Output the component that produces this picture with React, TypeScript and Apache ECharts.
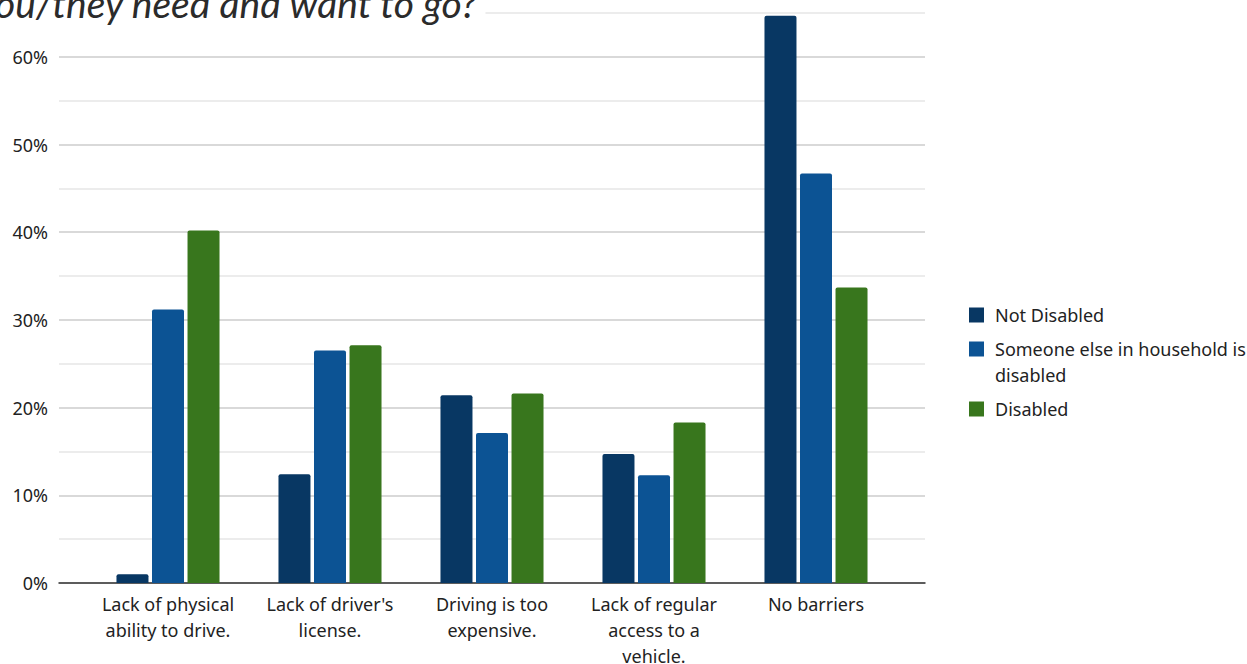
import React, { useEffect, useRef } from "react";
import * as echarts from "echarts";

// Survey barriers to getting where people need to go, by disability status (% of respondents)
const categories = [
  "Lack of physical\nability to drive.",
  "Lack of driver's\nlicense.",
  "Driving is too\nexpensive.",
  "Lack of regular\naccess to a\nvehicle.",
  "No barriers",
];
const seriesNames = ["Not Disabled", "Someone else in household is disabled", "Disabled"];
const notDisabled = [1.0, 12.4, 21.4, 14.7, 64.7];
const someoneElseDisabled = [31.2, 26.5, 17.1, 12.3, 46.7];
const disabled = [40.2, 27.1, 21.6, 18.3, 33.7];
const yTicks = [0, 10, 20, 30, 40, 50, 60];

const colors = ["#083763", "#0c5394", "#38761d"];
const FONT = "'Noto Sans', 'Open Sans', sans-serif";
const FONT_SIZE = 18;

export default function App() {
  const ref = useRef<HTMLDivElement>(null);

  useEffect(() => {
    document.body.style.margin = "0";
    const chart = echarts.init(ref.current!, null, { renderer: "svg" });
    const values = [notDisabled, someoneElseDisabled, disabled];

    const legendText = {
      fontFamily: FONT,
      fontSize: FONT_SIZE,
      color: "#222222",
      lineHeight: 26,
      padding: [0, 0, 0, 6],
    };
    const legendBase = {
      orient: "vertical" as const,
      left: 969,
      padding: 0,
      icon: "rect",
      itemWidth: 15,
      itemHeight: 15,
      selectedMode: false,
      textStyle: legendText,
    };
    // The long series name wraps onto a second line, set as its own row without a swatch.
    const legends = [
      { ...legendBase, data: [seriesNames[0]], top: 302 },
      {
        ...legendBase,
        data: [seriesNames[1]],
        top: 336,
        formatter: () => "Someone else in household is",
      },
      {
        ...legendBase,
        data: [seriesNames[1]],
        top: 362,
        itemStyle: { opacity: 0 },
        formatter: () => "disabled",
      },
      { ...legendBase, data: [seriesNames[2]], top: 396 },
    ];

    chart.setOption({
      animation: false,
      backgroundColor: "#ffffff",
      textStyle: { fontFamily: FONT },
      grid: [
        { left: 87, right: 350, top: 13, bottom: 81, outerBoundsMode: "none", containLabel: false },
        { left: 59, right: 322, top: 13, bottom: 81, outerBoundsMode: "none", containLabel: false },
      ],
      legend: legends,
      xAxis: [
        {
          type: "category",
          gridIndex: 0,
          data: categories,
          axisLine: { show: false },
          axisTick: { show: false },
          axisLabel: {
            color: "#222222",
            fontFamily: FONT,
            fontSize: FONT_SIZE,
            lineHeight: 26,
            margin: 8,
            interval: 0,
          },
        },
        {
          type: "category",
          gridIndex: 1,
          data: [""],
          axisLine: { show: true, lineStyle: { color: "#333333", width: 1.5 } },
          axisTick: { show: false },
          axisLabel: { show: false },
        },
      ],
      yAxis: [
        {
          type: "value",
          gridIndex: 0,
          min: 0,
          max: 65,
          interval: 5,
          axisLine: { show: false },
          axisTick: { show: false },
          axisLabel: { show: false },
          splitLine: { show: false },
        },
        {
          type: "value",
          gridIndex: 1,
          min: 0,
          max: 65,
          interval: 5,
          axisLine: { show: false },
          axisTick: { show: false },
          axisLabel: {
            color: "#222222",
            fontFamily: FONT,
            fontSize: FONT_SIZE,
            margin: 11,
            formatter: (v: number) => (yTicks.includes(v) ? `${v}%` : ""),
          },
          splitLine: {
            show: true,
            lineStyle: { color: ["#cccccc", "#e6e6e6"], width: 1.5 },
          },
        },
      ],
      series: seriesNames.map((name, i) => ({
        name,
        type: "bar",
        xAxisIndex: 0,
        yAxisIndex: 0,
        data: values[i],
        barWidth: 32,
        barGap: "11%",
        itemStyle: { color: colors[i], borderRadius: [2, 2, 0, 0] },
      })),
      graphic: [
        {
          type: "text",
          left: -5,
          top: -17,
          z: 10,
          style: {
            text: "ou/they need and want to go?",
            fontFamily: "Lato, 'Noto Sans', sans-serif",
            fontStyle: "italic",
            fontSize: 39,
            fill: "#2b2b2b",
            backgroundColor: "#ffffff",
            padding: [0, 7, 0, 0],
          },
        },
      ],
    });

    return () => chart.dispose();
  }, []);

  return <div ref={ref} style={{ width: 1247, height: 664 }} />;
}
